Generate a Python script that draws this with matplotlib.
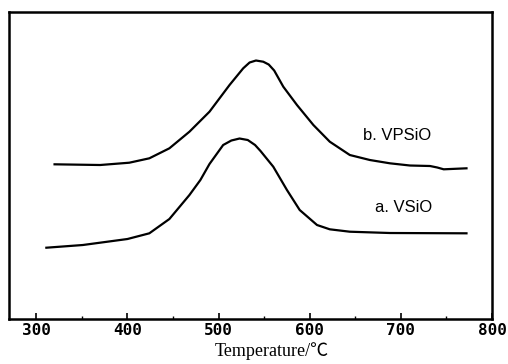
import matplotlib
matplotlib.use('Agg')
import matplotlib.pyplot as plt
from matplotlib.ticker import MultipleLocator

# curve b (VPSiO)
temp_b = [320, 370, 402, 424, 446, 468, 490, 512, 527, 534, 541, 549, 555, 561,
          571, 586, 604, 622, 644, 666, 688, 710, 732, 740, 747, 772]
sig_b = [154.7, 154, 156.3, 160.7, 170.7, 187.3, 207.3, 234, 250.7, 256.5, 258.5,
         257.3, 254.5, 248.5, 232.3, 214, 194, 177.3, 164, 159, 155.7, 153.5, 153,
         151.5, 149.7, 150.7]

# curve a (VSiO)
temp_a = [311, 351, 400, 424, 446, 468, 480, 490, 505, 514, 523, 532, 540, 546,
          560, 575, 589, 608, 622, 644, 688, 772]
sig_a = [71.3, 74, 80, 85.7, 100, 124, 139, 155, 174, 178.5, 180.5, 179, 174,
         168, 152.3, 129, 109, 94, 89.7, 87.3, 86, 85.7]

labels = ['b. VPSiO', 'a. VSiO']
label_pos = [(696, 184), (703, 112)]

fig = plt.figure(figsize=(5.08, 3.64), dpi=100)
ax = fig.add_axes([0.0177, 0.1236, 0.9508, 0.8434])

ax.plot(temp_b, sig_b, color='black', lw=1.6)
ax.plot(temp_a, sig_a, color='black', lw=1.6)

for txt, (x, y) in zip(labels, label_pos):
    ax.text(x, y, txt, ha='center', va='center', fontsize=12,
            family='Liberation Sans')

ax.set_xlim(270, 800)
ax.set_ylim(0, 307)
ax.xaxis.set_major_locator(MultipleLocator(100))
ax.xaxis.set_minor_locator(MultipleLocator(50))
ax.tick_params(axis='x', which='major', direction='in', length=4, width=1.2, pad=3)
ax.tick_params(axis='x', which='minor', direction='in', length=2, width=1)
ax.set_yticks([])
for s in ax.spines.values():
    s.set_linewidth(1.8)

for lab in ax.get_xticklabels():
    lab.set_fontfamily('DejaVu Sans Mono')
    lab.set_fontweight('bold')
    lab.set_fontsize(11.5)

ax.set_xlabel('Temperature/℃', family=['Liberation Serif', 'Noto Sans CJK SC'],
              fontsize=13)
ax.xaxis.set_label_coords(0.545, -0.075)

fig.savefig('out.png', dpi=100)
